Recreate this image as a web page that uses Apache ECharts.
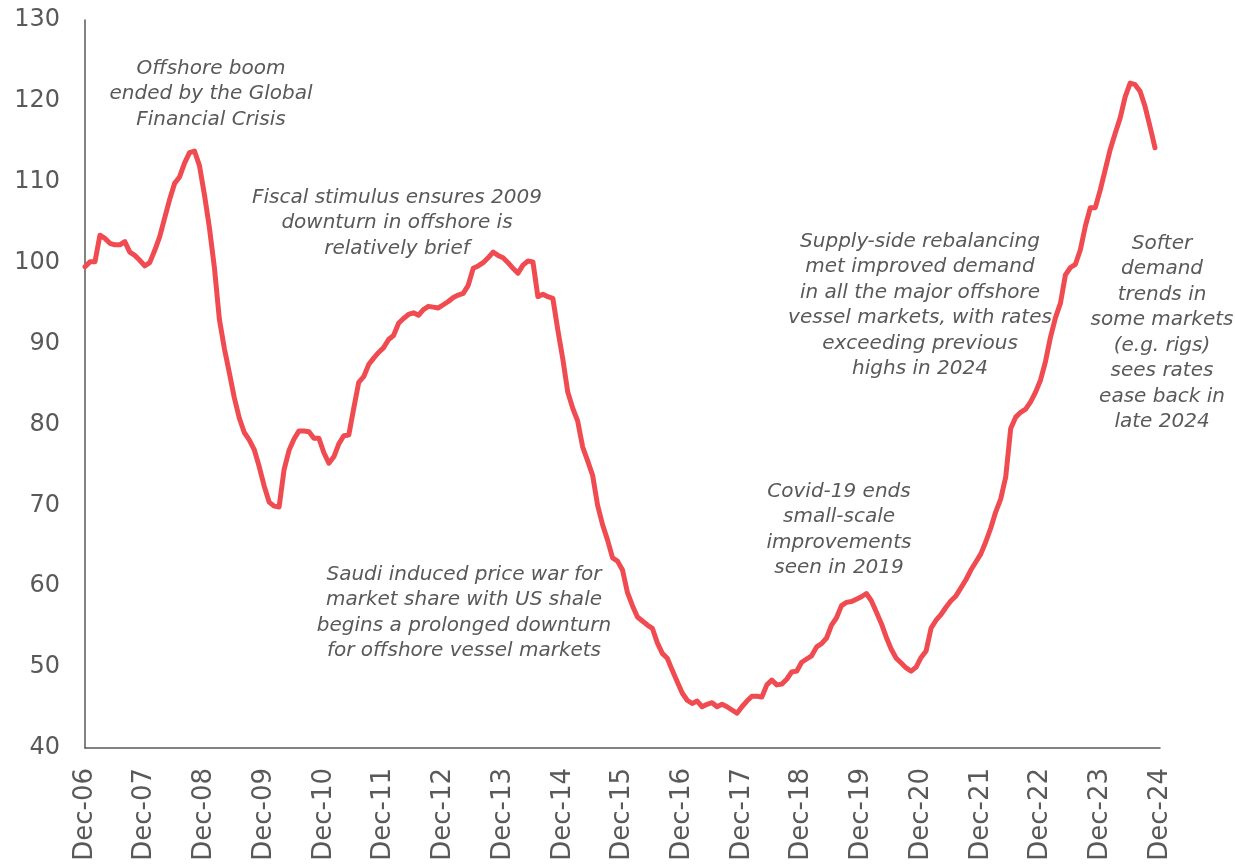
<!DOCTYPE html>
<html>
<head>
<meta charset="utf-8">
<script src="https://cdn.jsdelivr.net/npm/echarts@6/dist/echarts.min.js"></script>
<style>
  html, body { margin: 0; padding: 0; background: #fff; }
  #chart { width: 1235px; height: 865px; }
</style>
</head>
<body>
<div id="chart"></div>
<script>
// monthly index, Dec-06 .. Dec-24
const monthNames = ['Jan', 'Feb', 'Mar', 'Apr', 'May', 'Jun', 'Jul', 'Aug', 'Sep', 'Oct', 'Nov', 'Dec']
const months = []
for (let y = 6; y <= 24; y++) {
  for (let m = 0; m < 12; m++) {
    if (y === 6 && m < 11) continue
    if (y === 24 && m > 11) continue
    months.push(monthNames[m] + '-' + String(y).padStart(2, '0'))
  }
}

const rateIndex = [
  99.5, 100.1, 100.1, 103.4, 103.0, 102.4, 102.2, 102.2, 102.6, 101.3, 100.9, 100.3,
  99.6, 100.0, 101.5, 103.2, 105.5, 107.8, 109.8, 110.6, 112.3, 113.6, 113.8, 112.0,
  108.4, 104.3, 99.4, 93.0, 89.4, 86.4, 83.3, 80.8, 79.0, 78.1, 76.9, 74.8,
  72.4, 70.4, 69.9, 69.8, 74.4, 76.8, 78.2, 79.2, 79.2, 79.1, 78.3, 78.3,
  76.5, 75.2, 76.0, 77.6, 78.6, 78.7, 82.0, 85.2, 85.9, 87.4, 88.2, 88.9,
  89.5, 90.5, 91.0, 92.5, 93.1, 93.6, 93.8, 93.5, 94.2, 94.6, 94.5, 94.4,
  94.8, 95.2, 95.7, 96.0, 96.2, 97.2, 99.3, 99.6, 100.0, 100.6, 101.3, 100.9,
  100.6, 100.0, 99.3, 98.7, 99.7, 100.2, 100.1, 95.8, 96.1, 95.8, 95.6, 91.7,
  88.1, 84.0, 82.0, 80.4, 77.2, 75.5, 73.7, 70.0, 67.6, 65.7, 63.5, 63.1,
  62.0, 59.2, 57.6, 56.2, 55.7, 55.2, 54.8, 53.0, 51.7, 51.1, 49.6, 48.2,
  46.8, 45.9, 45.5, 45.8, 45.1, 45.4, 45.6, 45.1, 45.4, 45.1, 44.7, 44.3,
  45.1, 45.8, 46.4, 46.4, 46.3, 47.8, 48.4, 47.8, 47.9, 48.5, 49.4, 49.5,
  50.6, 51.0, 51.4, 52.5, 52.9, 53.6, 55.2, 56.1, 57.6, 58.0, 58.1, 58.4,
  58.7, 59.1, 58.2, 56.8, 55.4, 53.7, 52.2, 51.1, 50.5, 49.9, 49.5, 50.0,
  51.2, 52.0, 54.8, 55.8, 56.5, 57.4, 58.2, 58.8, 59.8, 60.8, 62.0, 63.0,
  64.0, 65.5, 67.2, 69.2, 70.8, 73.5, 79.5, 80.9, 81.5, 81.9, 82.8, 84.0,
  85.5, 87.8, 90.8, 93.2, 95.0, 98.5, 99.4, 99.8, 101.6, 104.5, 106.8, 106.8,
  109.0, 111.5, 114.0, 116.0, 117.9, 120.5, 122.2, 122.0, 121.2, 119.3, 116.8, 114.2
]

const notes = [
  { text: 'Offshore boom\nended by the Global\nFinancial Crisis', x: 211, y: 56 },
  { text: 'Fiscal stimulus ensures 2009\ndownturn in offshore is\nrelatively brief', x: 397, y: 185 },
  { text: 'Saudi induced price war for\nmarket share with US shale\nbegins a prolonged downturn\nfor offshore vessel markets', x: 464, y: 562 },
  { text: 'Covid-19 ends\nsmall-scale\nimprovements\nseen in 2019', x: 839, y: 479 },
  { text: 'Supply-side rebalancing\nmet improved demand\nin all the major offshore\nvessel markets, with rates\nexceeding previous\nhighs in 2024', x: 920, y: 229 },
  { text: 'Softer\ndemand\ntrends in\nsome markets\n(e.g. rigs)\nsees rates\nease back in\nlate 2024', x: 1162, y: 231 }
]

const textColor = '#595959'
const fontFamily = '"DejaVu Sans", sans-serif'

const chart = echarts.init(document.getElementById('chart'))

chart.setOption({
  animation: false,
  backgroundColor: '#fff',
  grid: { left: 85, right: 75, top: 20, bottom: 117 },
  xAxis: {
    type: 'category',
    data: months,
    boundaryGap: false,
    axisLine: { lineStyle: { color: '#595959', width: 1.5 } },
    axisTick: { show: false },
    axisLabel: {
      interval: 11,
      rotate: 90,
      margin: 20,
      color: textColor,
      fontSize: 26,
      fontFamily: fontFamily
    },
    splitLine: { show: false }
  },
  yAxis: {
    type: 'value',
    min: 40,
    max: 130,
    interval: 10,
    axisLine: { show: true, lineStyle: { color: '#595959', width: 1.5 } },
    axisTick: { show: false },
    axisLabel: {
      margin: 25,
      color: textColor,
      fontSize: 24,
      fontFamily: fontFamily
    },
    splitLine: { show: false }
  },
  series: [
    {
      type: 'line',
      data: rateIndex,
      showSymbol: false,
      smooth: false,
      lineStyle: { color: '#F04B50', width: 5, join: 'round', cap: 'round' }
    }
  ],
  graphic: notes.map((n) => ({
    type: 'text',
    x: n.x,
    y: n.y,
    z: 10,
    style: {
      text: n.text,
      textAlign: 'center',
      textVerticalAlign: 'top',
      font: 'italic 20px ' + fontFamily,
      lineHeight: 25.5,
      fill: textColor
    }
  }))
})
</script>
</body>
</html>
